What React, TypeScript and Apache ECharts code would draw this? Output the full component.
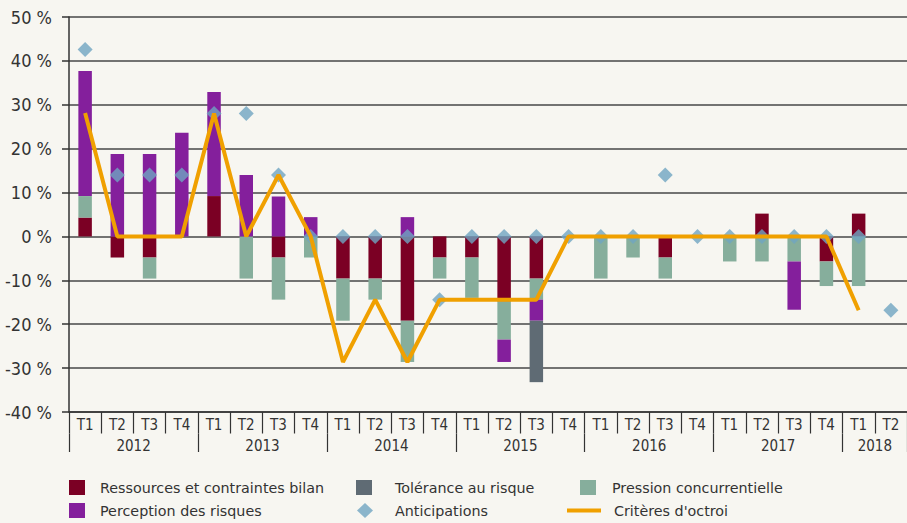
import React, { useEffect, useRef } from "react";
import * as echarts from "echarts";

const quarters = [
  "T1", "T2", "T3", "T4", "T1", "T2", "T3", "T4", "T1", "T2", "T3", "T4", "T1",
  "T2", "T3", "T4", "T1", "T2", "T3", "T4", "T1", "T2", "T3", "T4", "T1", "T2",
];
const years = ["2012", "2013", "2014", "2015", "2016", "2017", "2018"];
const yearStartIndex = [0, 4, 8, 12, 16, 20, 24];
const yearLabelIndex = [1, 5, 9, 13, 17, 21, 24];

const ressources = [4.3, -4.8, -4.8, 0, 9.2, 0, -4.8, 0, -9.6, -9.6, -19.2, -4.8, -4.8, -14.8, -9.6, 0, 0, 0, -4.8, 0, 0, 5.2, 0, -5.7, 5.2, 0];
const pression = [4.9, 0, -4.8, 0, 0, -9.6, -9.6, -4.8, -9.6, -4.8, -9.4, -4.8, -9.2, -8.7, -4.8, 0, -9.6, -4.8, -4.8, 0, -5.7, -5.7, -5.7, -5.6, -11.3, 0];
const perception = [28.5, 18.8, 18.8, 23.6, 23.7, 14.0, 9.1, 4.4, 0, 0, 4.4, 0, 0, -5.1, -4.8, 0, 0, 0, 0, 0, 0, 0, -11.0, 0, 0, 0];
const tolerance = [0, 0, 0, 0, 0, 0, 0, 0, 0, 0, 0, 0, 0, 0, -14.0, 0, 0, 0, 0, 0, 0, 0, 0, 0, 0, 0];
const criteres = [28.1, 0, 0, 0, 28.0, 0, 14.0, 0, -28.6, -14.4, -28.6, -14.4, -14.4, -14.4, -14.4, 0, 0, 0, 0, 0, 0, 0, 0, 0, -16.8, null];
const anticipations = [42.6, 14.0, 14.0, 14.0, 28.0, 28.0, 14.0, 0, 0, 0, 0, -14.4, 0, 0, 0, 0, 0, 0, 14.0, 0, 0, 0, 0, 0, 0, -16.8];

const AXIS_FONT = "'DejaVu Sans Condensed', 'DejaVu Sans', sans-serif";
const LEG_FONT = "'DejaVu Sans', sans-serif";
const TEXT = "#333333";
const AX = "#333333";

const C_RES = "#7b0024";
const C_PRE = "#86ae9c";
const C_PER = "#841f9c";
const C_TOL = "#5f6b74";
const C_CRI = "#f0a000";
const C_ANT = "#6fa5c2";

function yearForIndex(i: number): string {
  const k = yearLabelIndex.indexOf(i);
  return k >= 0 ? years[k] : "";
}

function makeLegend(name: string, icon: string, left: number, top: number, w: number, h: number, pad: number) {
  return {
    show: true,
    data: [{ name, icon }],
    left,
    top,
    padding: 0,
    itemWidth: w,
    itemHeight: h,
    selectedMode: false,
    orient: "horizontal",
    textStyle: { fontFamily: LEG_FONT, fontSize: 14.3, color: TEXT, padding: [0, 0, 0, pad] },
  };
}

export default function App() {
  const ref = useRef<HTMLDivElement>(null);

  useEffect(() => {
    if (!ref.current) return;
    const chart = echarts.init(ref.current, undefined, { renderer: "svg" });
    const option: any = {
      animation: false,
      backgroundColor: "#f7f6f1",
      grid: { left: 69, top: 17, width: 842.5, height: 395, containLabel: false },
      xAxis: [
        {
          type: "category",
          data: quarters,
          position: "bottom",
          axisLine: { show: true, onZero: false, lineStyle: { color: AX, width: 1.5 } },
          axisTick: { show: true, interval: 0, length: 21.5, lineStyle: { color: AX, width: 1.2 } },
          axisLabel: { interval: 0, fontFamily: AXIS_FONT, fontSize: 15, color: TEXT, margin: 5 },
          splitLine: { show: false },
        },
        {
          type: "category",
          data: quarters.map((_, i) => String(i)),
          position: "bottom",
          offset: 21.5,
          axisLine: { show: false, onZero: false },
          axisTick: {
            show: true,
            interval: (i: number) => yearStartIndex.indexOf(i) >= 0,
            length: 18.5,
            lineStyle: { color: AX, width: 1.2 },
          },
          axisLabel: {
            interval: (i: number) => yearLabelIndex.indexOf(i) >= 0,
            formatter: (_v: string, i: number) => yearForIndex(i),
            fontFamily: AXIS_FONT,
            fontSize: 15,
            color: TEXT,
            margin: 5,
            padding: [0, 0, 0, 32.4],
          },
          splitLine: { show: false },
        },
      ],
      yAxis: {
        type: "value",
        min: -40,
        max: 50,
        interval: 10,
        axisLine: { show: true, lineStyle: { color: AX, width: 1.5 } },
        axisTick: { show: true, length: 7, lineStyle: { color: AX, width: 1.5 } },
        axisLabel: {
          formatter: (v: number) => `${v} %`,
          fontFamily: AXIS_FONT,
          fontSize: 18,
          color: TEXT,
          margin: 17,
          showMinLabel: true,
          showMaxLabel: true,
        },
        splitLine: { show: true, lineStyle: { color: "#474747", width: 1.6 } },
      },
      legend: [
        makeLegend("Ressources et contraintes bilan", "rect", 69, 480, 16, 15, 10),
        makeLegend("Tolérance au risque", "rect", 356, 480, 16, 15, 18),
        makeLegend("Pression concurrentielle", "rect", 580, 480, 16, 15, 11),
        makeLegend("Perception des risques", "rect", 69, 503, 16, 15, 10),
        makeLegend("Anticipations", "diamond", 357, 503, 16, 15, 17),
        makeLegend("Critères d'octroi", "rect", 567, 503.5, 34, 4, 8),
      ],
      series: [
        { name: "Ressources et contraintes bilan", type: "bar", stack: "s", data: ressources, barWidth: 13.5, itemStyle: { color: C_RES } },
        { name: "Pression concurrentielle", type: "bar", stack: "s", data: pression, barWidth: 13.5, itemStyle: { color: C_PRE } },
        { name: "Perception des risques", type: "bar", stack: "s", data: perception, barWidth: 13.5, itemStyle: { color: C_PER } },
        { name: "Tolérance au risque", type: "bar", stack: "s", data: tolerance, barWidth: 13.5, itemStyle: { color: C_TOL } },
        {
          name: "Critères d'octroi",
          type: "line",
          data: criteres,
          symbol: "none",
          connectNulls: false,
          lineStyle: { color: C_CRI, width: 4 },
          itemStyle: { color: C_CRI },
        },
        {
          name: "Anticipations",
          type: "scatter",
          data: anticipations,
          symbol: "diamond",
          symbolSize: 15,
          itemStyle: { color: C_ANT },
        },
      ],
    };
    chart.setOption(option);
    return () => chart.dispose();
  }, []);

  return (
    <div
      ref={ref}
      style={{ position: "absolute", left: 0, top: 0, width: 907, height: 523 }}
    />
  );
}
